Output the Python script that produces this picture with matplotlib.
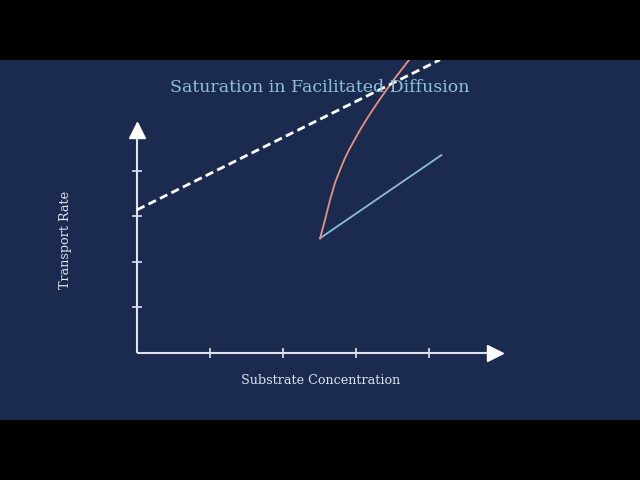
import matplotlib
matplotlib.use('Agg')
from matplotlib import pyplot as plt

# data (axis units)
x_ticks = [1, 2, 3, 4]
y_ticks = [1, 2, 3, 4]

carrier_x = [2.51, 4.17]
carrier_y = [2.52, 4.34]

curve_x = [2.507, 2.575, 2.644, 2.712, 2.781, 2.849, 2.918, 3.055, 3.164, 3.301, 3.493, 3.726]
curve_y = [2.511, 2.917, 3.355, 3.728, 4.013, 4.276, 4.496, 4.890, 5.175, 5.504, 5.943, 6.425]

diff_x = [0.0, 4.15]
diff_y = [3.14, 6.43]

navy = '#1b2b4f'
axis_col = '#dde3ee'

fig = plt.figure(figsize=(6.4, 4.8), dpi=100, facecolor='black')
ax = fig.add_axes([0, 60 / 480, 1, 360 / 480])
ax.set_facecolor(navy)
ax.set_xlim(-137 / 73, (640 - 137) / 73)
ax.set_ylim((353 - 420) / 45.6, (353 - 60) / 45.6)
ax.set_xticks([])
ax.set_yticks([])
for s in ax.spines.values():
    s.set_visible(False)

# axes with arrow tips
ax.plot([0, 4.85], [0, 0], color=axis_col, lw=1.5, solid_capstyle='butt')
ax.plot([0, 0], [0, 4.85], color=axis_col, lw=1.5, solid_capstyle='butt')
ax.plot(4.9, 0, marker='>', ms=12, color='white', mec='white')
ax.plot(0, 4.9, marker='^', ms=12, color='white', mec='white')
ax.plot(x_ticks, [0] * len(x_ticks), ls='none', marker='|', ms=7, mew=1.2, color=axis_col)
ax.plot([0] * len(y_ticks), y_ticks, ls='none', marker='_', ms=7, mew=1.2, color=axis_col)

# curves
ax.plot(carrier_x, carrier_y, color='#8dbbdc', lw=1.3)
ax.plot(curve_x, curve_y, color='#e8917c', lw=1.3)
ax.plot(diff_x, diff_y, color='white', lw=2, dashes=(3, 1.6))

ax.text(2.51, (353 - 87) / 45.6, 'Saturation in Facilitated Diffusion',
        family='DejaVu Serif', fontsize=12.5, color='#8fc0de', ha='center', va='center')
ax.text(2.51, (353 - 381) / 45.6, 'Substrate Concentration',
        family='DejaVu Serif', fontsize=9.2, color=axis_col, ha='center', va='center')
ax.text((66 - 137) / 73, (353 - 240) / 45.6, 'Transport Rate',
        family='DejaVu Serif', fontsize=9.2, color=axis_col, ha='center', va='center',
        rotation=90)

plt.savefig('out.png', dpi=100, facecolor='black')
